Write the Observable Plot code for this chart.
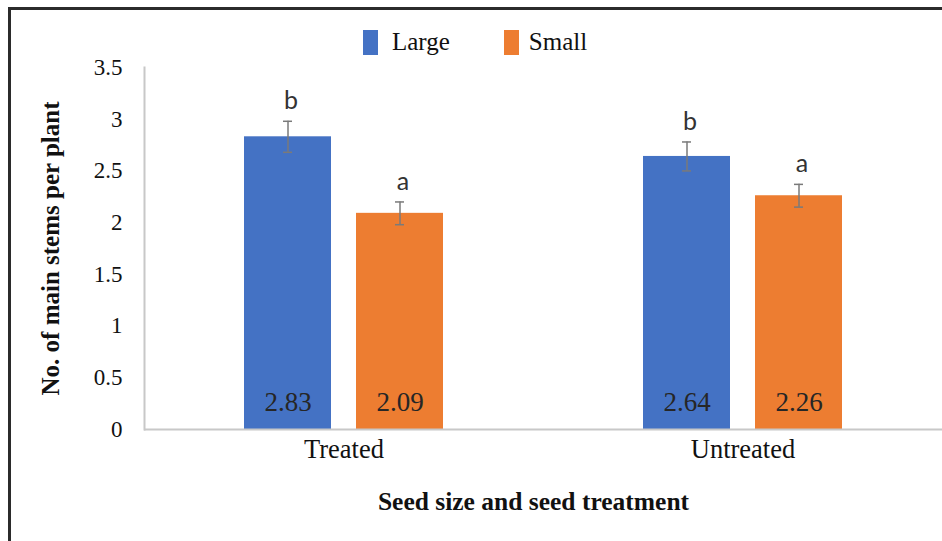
<!DOCTYPE html>
<html>
<head>
<meta charset="utf-8">
<script src="https://cdn.jsdelivr.net/npm/d3@7"></script>
<script src="https://cdn.jsdelivr.net/npm/@observablehq/plot@0.6"></script>
<style>
  html, body { margin: 0; padding: 0; background: #fff; }
  #wrap { position: relative; width: 942px; height: 541px; overflow: hidden; font-family: "Liberation Serif", serif; }
  #border { position: absolute; left: 8px; top: 7px; width: 960px; height: 560px; border-top: 3px solid #2b2b2b; border-left: 3px solid #2b2b2b; box-sizing: border-box; pointer-events: none; }
  #chart { position: absolute; left: 0; top: 0; }
  #legend { position: absolute; top: 28px; left: 363px; display: flex; align-items: center; font-size: 25px; color: #111; }
  .sw { display: inline-block; width: 15px; height: 25px; }
  .item { display: flex; align-items: center; }
  g[aria-label="y-axis label"] text { font-weight: bold; font-size: 25px; }
  g[aria-label="fx-axis label"] text { font-weight: bold; font-size: 25.5px; }
  g[aria-label="fx-axis tick label"] text { font-size: 26.5px; }
</style>
</head>
<body>
<div id="wrap">
  <div id="chart"></div>
  <div id="legend"></div>
  <div id="border"></div>
</div>
<script>
const groups = ["Treated", "Untreated"];
const sizes = ["Large", "Small"];
const colors = ["#4472C4", "#ED7D31"];
const groupCol = ["Treated", "Treated", "Untreated", "Untreated"];
const sizeCol = ["Large", "Small", "Large", "Small"];
const means = [2.83, 2.09, 2.64, 2.26];
const errors = [0.15, 0.11, 0.14, 0.11];
const letters = ["b", "a", "b", "a"];
const yTicks = [0, 0.5, 1, 1.5, 2, 2.5, 3, 3.5];

const rows = means.map((v, i) => ({
  group: groupCol[i], size: sizeCol[i], value: v,
  lo: v - errors[i], hi: v + errors[i], letter: letters[i]
}));

const plot = Plot.plot({
  width: 942,
  height: 541,
  marginLeft: 143,
  marginRight: 0,
  marginTop: 67,
  marginBottom: 112,
  style: { fontFamily: "Liberation Serif, serif", fontSize: "23px", color: "#111", background: "transparent" },
  fx: { domain: groups, padding: 0, axis: "bottom", tickSize: 0, tickPadding: 10, label: "Seed size and seed treatment", labelAnchor: "center", labelOffset: 80 },
  x: { domain: sizes, paddingInner: 0.221, paddingOuter: 0.878, axis: null },
  y: { domain: [0, 3.5], ticks: yTicks, tickFormat: d => String(d), tickSize: 0, tickPadding: 22, label: "No. of main stems per plant", labelAnchor: "center", labelOffset: 103, labelArrow: "none" },
  color: { domain: sizes, range: colors },
  marks: [
    Plot.barY(rows, { fx: "group", x: "size", y: "value", fill: "size" }),
    Plot.ruleY([0], { stroke: "#c8c8c8", strokeWidth: 2 }),
    Plot.frame({ anchor: "left", facet: "super", stroke: "#c8c8c8", strokeWidth: 2 }),
    Plot.ruleX(rows, { fx: "group", x: "size", y1: "lo", y2: "hi", stroke: "#7a7a7a", strokeWidth: 1.5 }),
    Plot.tickY(rows, { fx: "group", x: "size", y: "lo", stroke: "#7a7a7a", strokeWidth: 1.5, insetLeft: 39, insetRight: 39 }),
    Plot.tickY(rows, { fx: "group", x: "size", y: "hi", stroke: "#7a7a7a", strokeWidth: 1.5, insetLeft: 39, insetRight: 39 }),
    Plot.text(rows, { fx: "group", x: "size", y: "hi", text: "letter", dx: 3, dy: -12, lineAnchor: "bottom", fontFamily: "Lato, sans-serif", fontSize: 25, fill: "#333" }),
    Plot.text(rows, { fx: "group", x: "size", y: () => 0, text: d => d.value.toFixed(2), dy: -27, lineAnchor: "middle", fontFamily: "Liberation Serif, serif", fontSize: 27, fill: "#262626" })
  ]
});
document.getElementById("chart").appendChild(plot);

const xLabel = plot.querySelector('g[aria-label="fx-axis label"] text');
if (xLabel) xLabel.setAttribute("dx", "-10");

const legend = document.getElementById("legend");
sizes.forEach((s, i) => {
  const item = document.createElement("div");
  item.className = "item";
  item.style.marginRight = i === 0 ? "54px" : "0";
  const sw = document.createElement("span");
  sw.className = "sw";
  sw.style.background = colors[i];
  sw.style.marginRight = i === 0 ? "14px" : "10px";
  const t = document.createElement("span");
  t.textContent = s;
  item.appendChild(sw);
  item.appendChild(t);
  legend.appendChild(item);
});
</script>
</body>
</html>
